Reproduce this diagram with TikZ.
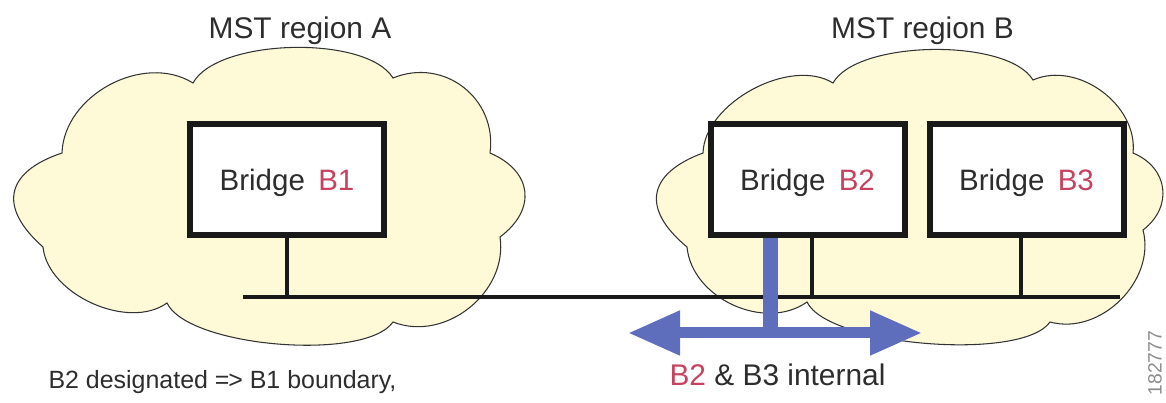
\documentclass[tikz,border=0pt]{standalone}
\usepackage{fontspec}
\setmainfont{Liberation Sans}
\usetikzlibrary{arrows.meta,positioning}

\definecolor{cloudfill}{RGB}{254,250,216}
\definecolor{linkblue}{RGB}{94,110,188}
\definecolor{bridgered}{RGB}{198,66,94}
\definecolor{textgrey}{RGB}{45,45,45}

\begin{document}
\begin{tikzpicture}[node distance=0.38cm,>={Triangle[length=1.04cm,width=0.84cm]},lobe/.style={bend left=60,looseness=#1}]
		\tikzstyle{cloud}=[fill=cloudfill, draw=black!80, line width=0.6pt]
		\tikzstyle{bridge}=[rectangle, draw=black!90, line width=0.12cm, fill=white, minimum width=3.88cm, minimum height=2.22cm, text=textgrey, text depth=0pt, font=\fontsize{16.8}{20}\selectfont]
		\tikzstyle{bus}=[line width=0.08cm, black!90]
		\tikzstyle{link}=[draw=linkblue, line width=0.3cm]
		\tikzstyle{regiontext}=[text=textgrey, font=\fontsize{17}{20}\selectfont]
		\tikzstyle{notetext}=[text=textgrey, font=\fontsize{14.2}{18}\selectfont]

		\useasboundingbox (0,0) rectangle (23.32,8.06);

		% region A
		\filldraw[cloud] (0.86,3.12) to[lobe=1.6] (1.24,5.00) to[lobe=1.0] (3.86,6.40)
			to[lobe=0.65] (7.86,6.50) to[lobe=1.15] (9.80,5.00) to[lobe=1.4] (10.00,3.32)
			to[lobe=1.05] (7.86,1.62) to[lobe=0.55] (3.34,2.00) to[lobe=0.9] (0.86,3.12) -- cycle;

		% region B
		\filldraw[cloud] (13.74,3.12) to[lobe=1.6] (14.06,5.00) to[lobe=0.87] (16.66,6.40)
			to[lobe=0.63] (20.66,6.46) to[lobe=1.0] (22.66,5.00) to[lobe=1.26] (22.86,3.46)
			to[lobe=1.02] (21.00,1.62) to[lobe=0.51] (16.14,2.02) to[lobe=1.0] (13.74,3.12) -- cycle;

		\node [regiontext] (titleA) at (6.00,7.44) {MST region A};
		\node [regiontext] (titleB) at (18.45,7.44) {MST region B};

		\node [bridge] (b1) at (5.74,4.47) {Bridge\hspace{0.45em}\textcolor{bridgered}{B1}};
		\node [bridge] (b2) at (16.15,4.47) {Bridge\hspace{0.45em}\textcolor{bridgered}{B2}};
		\node [bridge] (b3) [right=of b2] {Bridge\hspace{0.45em}\textcolor{bridgered}{B3}};

		\coordinate (busL) at (4.86,2.12);
		\coordinate (busR) at (22.40,2.12);
		\coordinate (t2) at ([xshift=0.09cm]b2.south);
		\coordinate (t3) at ([xshift=-0.11cm]b3.south);
		\draw[bus] (busL) -- (busR);
		\draw[bus] (b1.south) -- (b1.south |- busL);
		\draw[bus] (t2) -- (t2 |- busL);
		\draw[bus] (t3) -- (t3 |- busL);

		\coordinate (t0) at ([xshift=-0.75cm]b2.south);
		\coordinate (arrL) at (12.56,1.40);
		\coordinate (arrR) at (18.44,1.40);
		\draw[link] (t0) -- (t0 |- arrL);
		\draw[link, line width=0.22cm, <->] (arrL) -- (arrR);

		\node [notetext] (noteA) at (4.45,0.42) {B2 designated =\kern-.05em> B1 boundary,};
		\node [regiontext] (noteB) at (15.55,0.56) {\textcolor{bridgered}{B2} \& B3 internal};
		\node [text=black!45, font=\fontsize{11}{12}\selectfont, rotate=90] (tag) at (23.10,0.80) {182777};
	\end{tikzpicture}
\end{document}
